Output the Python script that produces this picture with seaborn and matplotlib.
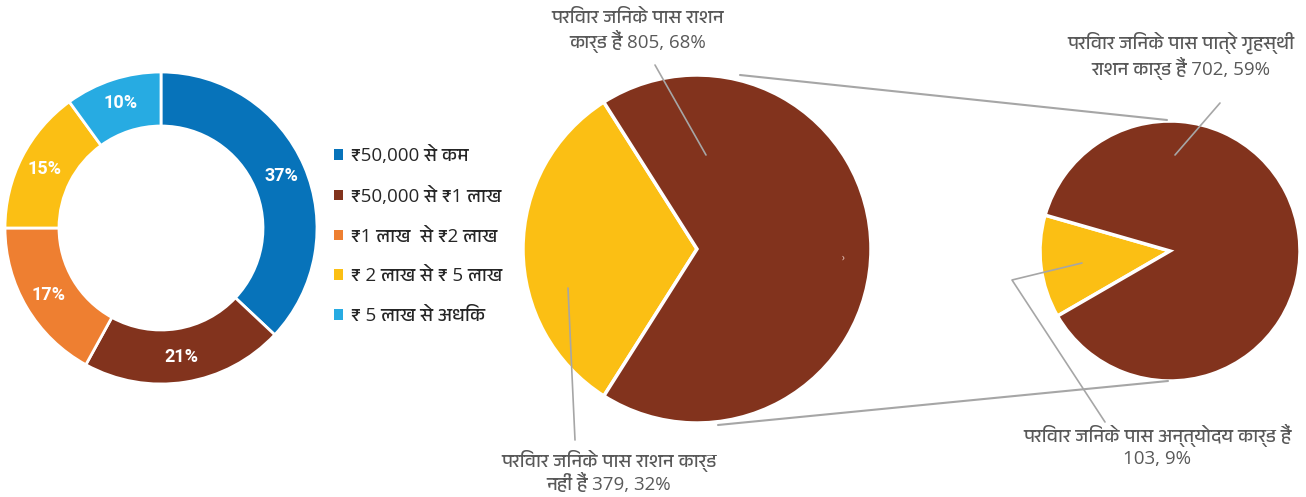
import numpy as np
import pandas as pd
import seaborn as sns
import matplotlib
matplotlib.use("Agg")
import matplotlib.pyplot as plt
from matplotlib import font_manager as fm
from matplotlib.ft2font import FT2Font

# ---------------- data ----------------
income_labels = ["₹50,000 से कम", "₹50,000 से ₹1 लाख", "₹1 लाख  से ₹2 लाख",
                 "₹ 2 लाख से ₹ 5 लाख", "₹ 5 लाख से अधिक"]
income_pct = [37, 21, 17, 15, 10]

ration_counts = [379, 805]          # no card, has card
ration_pct = [32, 68]

card_counts = [103, 702]            # antyodaya, priority household
card_pct = [9, 59]

# ---------------- style ----------------
sns.set_theme(style="white")
deva = None
for f in fm.fontManager.ttflist:
    try:
        if FT2Font(f.fname).get_char_index(ord("प")):
            deva = f.name
            if "Devanagari" in f.name:
                break
    except Exception:
        pass
fams = ["Open Sans"] + ([deva] if deva else []) + ["DejaVu Sans"]
plt.rcParams["font.family"] = fams

income_colors = ["#0773BA", "#82331D", "#EE7F31", "#FBBF14", "#27ABE2"]
brown, yellow = "#82331D", "#FBBF14"
gray_line = "#A6A6A6"
label_color = "#595959"

W, H = 1306, 497
fig = plt.figure(figsize=(W / 100, H / 100), dpi=100)
ax = fig.add_axes([0, 0, 1, 1])

def Y(y):
    return H - y

# ---------------- donut ----------------
r_out = 156
wedges, _, autotexts = ax.pie(
    income_pct, colors=income_colors, startangle=90, counterclock=False,
    center=(161, Y(228)), radius=r_out,
    wedgeprops=dict(width=54, edgecolor="white", linewidth=2),
    autopct=lambda p: f"{p:.0f}%", pctdistance=0.84,
    textprops=dict(color="white", fontsize=13, fontweight="bold",
                   family=["Roboto", "DejaVu Sans"]))

leg = ax.legend(wedges, income_labels, loc="upper left",
                bbox_to_anchor=(334, Y(146)), bbox_transform=ax.transData,
                frameon=False, borderpad=0, borderaxespad=0,
                handlelength=0.5, handleheight=0.5, handletextpad=0.4,
                labelspacing=1.16, fontsize=13.5)
for t in leg.get_texts():
    t.set_color("#262626")
for h in leg.legend_handles:
    h.set_edgecolor("none")

# ---------------- middle pie ----------------
cx1, cy1, r1 = 697, 249, 174
ax.pie(ration_counts, colors=[yellow, brown], startangle=180 - ration_pct[0] / 100 * 180,
       counterclock=True, center=(cx1, Y(cy1)), radius=r1,
       wedgeprops=dict(edgecolor="white", linewidth=2.5))

# ---------------- right pie ----------------
cx2, cy2, r2 = 1170, 251, 130
share = card_counts[0] / sum(card_counts) * 360
ax.pie(card_counts, colors=[yellow, brown], startangle=187 - share / 2,
       counterclock=True, center=(cx2, Y(cy2)), radius=r2,
       wedgeprops=dict(edgecolor="white", linewidth=2.5))

# ---------------- connectors ----------------
ax.plot([740, 1167], [Y(75), Y(120)], color=gray_line, lw=1.5)
ax.plot([718, 1168], [Y(425), Y(381)], color=gray_line, lw=1.5)

# leader lines
ax.plot([655, 706], [Y(65), Y(155)], color=gray_line, lw=1.2)
ax.plot([568, 575], [Y(288), Y(440)], color=gray_line, lw=1.2)
ax.plot([1220, 1175], [Y(103), Y(155)], color=gray_line, lw=1.2)
ax.plot([1082, 1012, 1105], [Y(263), Y(280), Y(422)], color=gray_line, lw=1.2)

# ---------------- labels ----------------
tkw = dict(color=label_color, fontsize=13.5, ha="center", va="center", linespacing=1.15)
ax.text(638, Y(31), f"परिवार जिनके पास राशन\nकार्ड हैं {ration_counts[1]}, {ration_pct[1]}%", **tkw)
ax.text(609, Y(472), f"परिवार जिनके पास राशन कार्ड\nनहीं हैं {ration_counts[0]}, {ration_pct[0]}%", **tkw)
ax.text(1181, Y(56), f"परिवार जिनके पास पात्रे गृहस्थी\nराशन कार्ड हैं {card_counts[1]}, {card_pct[1]}%", **tkw)
ax.text(1157, Y(446), f"परिवार जिनके पास अन्त्योदय कार्ड हैं\n{card_counts[0]}, {card_pct[0]}%", **tkw)
ax.text(843, Y(258), "›", color="#F2D8D0", fontsize=7, ha="center", va="center")

ax.set_xlim(0, W)
ax.set_ylim(0, H)
ax.set_aspect("equal")
ax.set_axis_off()
fig.savefig("out.png", dpi=100)
